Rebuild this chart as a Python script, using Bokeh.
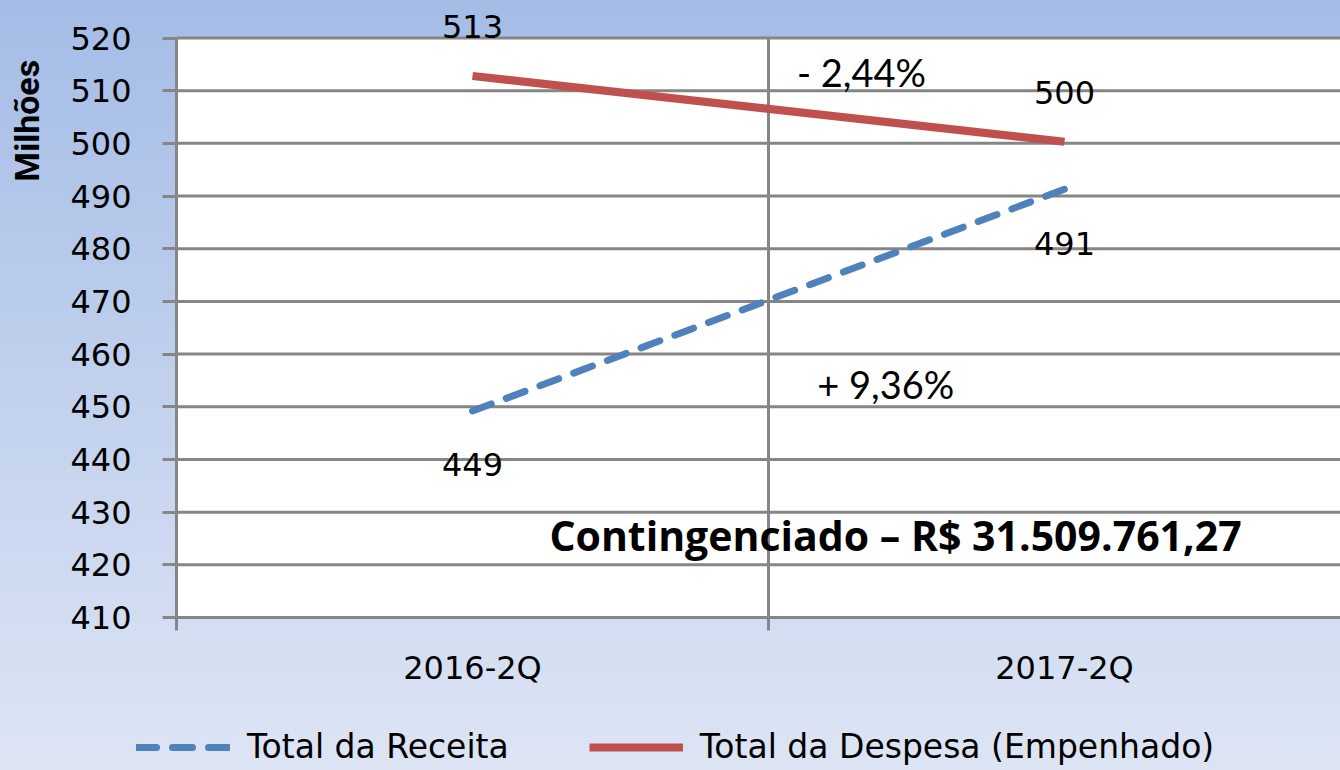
from math import pi
from bokeh.plotting import figure
from bokeh.models import (ColumnDataSource, FixedTicker, Range1d, Label, Legend,
                          LegendItem, BoxAnnotation, GlobalInlineStyleSheet)
from bokeh.core.properties import value
from bokeh.embed import file_html
from bokeh.resources import INLINE

# ---- data ----
categories = ["2016-2Q", "2017-2Q"]
receita = [449.2, 491.3]          # Total da Receita (milhões)
despesa = [512.8, 500.3]          # Total da Despesa (Empenhado)
y_ticks = list(range(410, 521, 10))
var_despesa = "- 2,44%"
var_receita = "+ 9,36%"
nota = "Contingenciado \u2013 R$ 31.509.761,27"
y_title = "Milh\u00f5es"

cat_x = [i + 0.5 for i in range(len(categories))]
x_lo, x_hi = 0, len(categories)
y_lo, y_hi = y_ticks[0], y_ticks[-1]
x_bounds = list(range(x_lo, x_hi + 1))

GRID = "#868686"
BLUE = "#4f81bd"
RED = "#c0504d"

p = figure(width=1340, height=770, output_backend="svg", toolbar_location=None,
           x_range=Range1d(-0.2973, 1.9662), y_range=Range1d(380.96, 527.12),
           min_border=0)
p.border_fill_color = None
p.background_fill_color = None
p.outline_line_color = None
p.stylesheets = [GlobalInlineStyleSheet(css="html{min-height:100%;background:linear-gradient(to bottom,#a4bce6 0%,#dde5f4 100%) fixed;}body{background:transparent;}")]

# white plotting area
p.add_layout(BoxAnnotation(left=x_lo, right=x_hi, bottom=y_lo, top=y_hi,
                           fill_color="white", fill_alpha=1, line_color=None,
                           level="image"))

# grid lines limited to the plotting area
p.xgrid.visible = False
p.ygrid.visible = False
p.segment(x0=[x_lo] * len(y_ticks), x1=[x_hi] * len(y_ticks), y0=y_ticks, y1=y_ticks,
          line_color=GRID, line_width=3, level="underlay")
p.segment(x0=x_bounds, x1=x_bounds, y0=[y_lo] * len(x_bounds), y1=[y_hi] * len(x_bounds),
          line_color=GRID, line_width=3, level="underlay")

# axes
p.xaxis.fixed_location = y_lo
p.xaxis.bounds = (x_lo, x_hi)
p.xaxis.ticker = FixedTicker(ticks=cat_x, minor_ticks=x_bounds)
p.xaxis.major_label_overrides = {x: c for x, c in zip(cat_x, categories)}
p.xaxis.major_tick_line_color = None
p.xaxis.major_tick_out = 13
p.xaxis.major_tick_in = 0
p.xaxis.minor_tick_line_color = GRID
p.xaxis.minor_tick_line_width = 3
p.xaxis.minor_tick_out = 13
p.xaxis.minor_tick_in = 0
p.xaxis.axis_line_color = GRID
p.xaxis.axis_line_width = 3
p.xaxis.major_label_standoff = 18

p.yaxis.fixed_location = x_lo
p.yaxis.bounds = (y_lo, y_hi)
p.yaxis.ticker = FixedTicker(ticks=y_ticks, minor_ticks=[])
p.yaxis.major_tick_line_color = GRID
p.yaxis.major_tick_line_width = 3
p.yaxis.major_tick_out = 14
p.yaxis.major_tick_in = 0
p.yaxis.axis_line_color = GRID
p.yaxis.axis_line_width = 3
p.yaxis.major_label_standoff = 31

for ax in (p.xaxis, p.yaxis):
    ax.major_label_text_font = "DejaVu Sans"
    ax.major_label_text_font_size = "32px"
    ax.major_label_text_color = "black"

# series
src = ColumnDataSource(dict(x=cat_x, receita=receita, despesa=despesa,
                            lab_r=[f"{v:.0f}" for v in receita],
                            lab_d=[f"{v:.0f}" for v in despesa]))
r_rec = p.line("x", "receita", source=src, line_color=BLUE, line_width=7,
               line_dash="20 16", line_cap="round")
r_des = p.line("x", "despesa", source=src, line_color=RED, line_width=8)

p.text("x", "despesa", text="lab_d", source=src, y_offset=-49,
       text_align="center", text_baseline="middle",
       text_font=value("DejaVu Sans"), text_font_size="32px", text_color="black")
p.text("x", "receita", text="lab_r", source=src, y_offset=54,
       text_align="center", text_baseline="middle",
       text_font=value("DejaVu Sans"), text_font_size="32px", text_color="black")

# annotations
p.add_layout(Label(x=1.157, y=513.6, text=var_despesa, text_align="center",
                   text_baseline="middle", text_font="Lato", text_font_size="38px",
                   text_color="black"))
p.add_layout(Label(x=1.198, y=454.4, text=var_receita, text_align="center",
                   text_baseline="middle", text_font="Lato", text_font_size="38px",
                   text_color="black"))
p.add_layout(Label(x=1.2145, y=425.6, text=nota, text_align="center",
                   text_baseline="middle", text_font="Open Sans", text_font_style="bold",
                   text_font_size="41px", text_color="black"))
p.add_layout(Label(x=-0.2517, y=504.3, text=y_title, angle=pi / 2,
                   text_align="center", text_baseline="middle", text_font="Roboto",
                   text_font_style="bold", text_font_size="34px", text_color="black"))

# legend
legend = Legend(items=[LegendItem(label="Total da Receita", renderers=[r_rec]),
                       LegendItem(label="Total da Despesa (Empenhado)", renderers=[r_des])],
                orientation="horizontal", location=(136, 4),
                padding=0, margin=0, spacing=80, label_standoff=17,
                glyph_width=94, glyph_height=30, label_height=30,
                border_line_color=None, background_fill_alpha=0,
                label_text_font="DejaVu Sans", label_text_font_size="33px",
                label_text_color="black")
p.add_layout(legend, "center")

open("out.html", "w").write(file_html(p, INLINE))
